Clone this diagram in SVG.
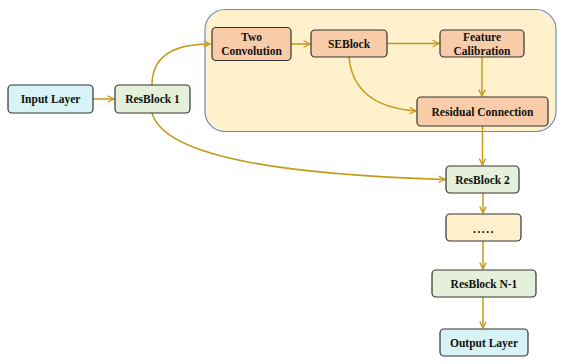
<svg xmlns="http://www.w3.org/2000/svg" width="573" height="364" viewBox="0 0 573 364">
<defs>
<marker id="ah" viewBox="0 0 10 10" refX="9" refY="5" markerWidth="8" markerHeight="8" markerUnits="userSpaceOnUse" orient="auto">
<path d="M1,1 L9,5 L1,9" fill="none" stroke="#c49a1a" stroke-width="1.6"/>
</marker>
</defs>
<style>
.n rect{stroke:#333;stroke-width:1.2}
.cyan{fill:#d7f3f5}
.green{fill:#e4f0d9}
.orange{fill:#f8cca9}
.yellow{fill:#fff0cc}
text{font-family:"Liberation Serif","Times New Roman",serif;font-weight:bold;font-size:11.5px;fill:#111;text-anchor:middle}
.c path{fill:none;stroke:#c49a1a;stroke-width:1.5;marker-end:url(#ah)}
</style>
<rect id="container" x="205" y="9.5" width="351" height="122" rx="20" fill="#fff1cb" stroke="#6c8ebf" stroke-width="1.2"/>
<g class="c" id="connectors">
<path d="M93,99 H114"/>
<path d="M152,85 C152,55 175,44 210,44"/>
<path d="M291,44 H310"/>
<path d="M387,43.5 H439"/>
<path d="M482,57 V96"/>
<path d="M349,57 C352,90 375,108 416,111"/>
<path d="M152,113 C165,160 300,175 445,179.5"/>
<path d="M482.5,126 V165"/>
<path d="M483,193 V213"/>
<path d="M483,241 V269"/>
<path d="M483,297 V328"/>
</g>
<g class="n" id="input"><rect class="cyan" x="8" y="85" width="85" height="28" rx="4"/><text x="50.5" y="103">Input Layer</text></g>
<g class="n" id="resblock1"><rect class="green" x="115" y="85" width="75" height="28" rx="4"/><text x="152.5" y="103">ResBlock 1</text></g>
<g class="n" id="twoconv"><rect class="orange" x="212" y="27.5" width="79" height="33" rx="4"/><text x="251.5" y="41">Two</text><text x="251.5" y="54.5">Convolution</text></g>
<g class="n" id="seblock"><rect class="orange" x="311" y="30" width="76" height="27" rx="4"/><text x="349" y="47.5">SEBlock</text></g>
<g class="n" id="featcal"><rect class="orange" x="440" y="30" width="84" height="27" rx="4"/><text x="482" y="41">Feature</text><text x="482" y="54.5">Calibration</text></g>
<g class="n" id="residual"><rect class="orange" x="417" y="97" width="131" height="29" rx="4"/><text x="482.5" y="115.5">Residual Connection</text></g>
<g class="n" id="resblock2"><rect class="green" x="446" y="166" width="73" height="27" rx="4"/><text x="482.5" y="183.5">ResBlock 2</text></g>
<g class="n" id="dots"><rect class="yellow" x="446" y="214" width="75" height="27" rx="4"/><text x="484" y="233" letter-spacing="1.5">.....</text></g>
<g class="n" id="resblockn1"><rect class="green" x="432" y="270" width="104" height="27" rx="4"/><text x="484" y="287.5">ResBlock N-1</text></g>
<g class="n" id="output"><rect class="cyan" x="440" y="329" width="88" height="27" rx="4"/><text x="484" y="346.5">Output Layer</text></g>
</svg>
